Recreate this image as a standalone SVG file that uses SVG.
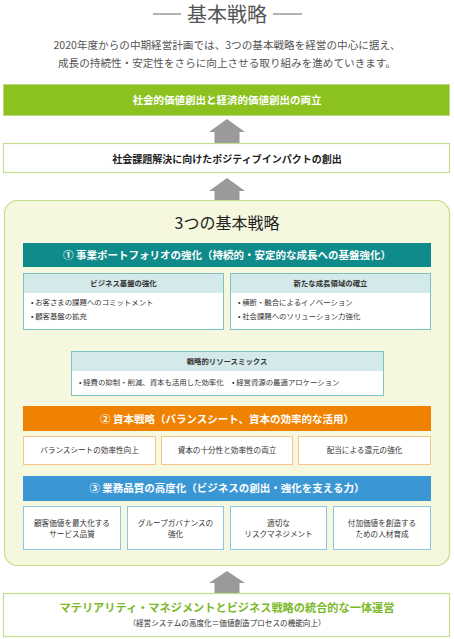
<svg xmlns="http://www.w3.org/2000/svg" width="454" height="639" viewBox="0 0 454 639">
<defs>
<style>
text{font-family:"Noto Sans CJK JP","Noto Sans",sans-serif;text-anchor:middle}
.ttl{font-size:20px;fill:#555}
.sub{font-size:10.6px;fill:#555}
.wb{font-size:10.5px;fill:#fff;font-weight:bold}
.db{font-size:10px;fill:#222;font-weight:bold}
.h3{font-size:16px;fill:#222}
.hd{font-size:7.4px;fill:#333;font-weight:bold}
.bl{font-size:7.4px;fill:#333;text-anchor:start}
.sm{font-size:7.6px;fill:#333}
.gt{font-size:11.2px;fill:#7cb82a;font-weight:bold}
.arr{fill:#9a9a9a}
.tealbox{fill:#fff;stroke:#7cc3c3;stroke-width:1}
.tealhd{fill:#d4e9e9}
.orbox{fill:#fff;stroke:#f7c48a;stroke-width:1}
.blbox{fill:#fff;stroke:#8cc6ea;stroke-width:1}
.gbox{fill:#fff;stroke:#c3df8e;stroke-width:1.2}
</style>
</defs>

<g id="title">
<line x1="153" y1="14" x2="181" y2="14" stroke="#666" stroke-width="1"/>
<line x1="273" y1="14" x2="302" y2="14" stroke="#666" stroke-width="1"/>
<text class="ttl" x="227" y="22">基本戦略</text>
<text class="sub" x="227" y="49">2020年度からの中期経営計画では、3つの基本戦略を経営の中心に据え、</text>
<text class="sub" x="227" y="67">成長の持続性・安定性をさらに向上させる取り組みを進めていきます。</text>
</g>

<g id="connectors">
<path class="arr" d="M227 119 L245 132 L239.5 132 L239.5 143 L214.5 143 L214.5 132 L209 132 Z"/>
<path class="arr" d="M227 178 L245 191 L239.5 191 L239.5 200 L214.5 200 L214.5 191 L209 191 Z"/>
<path class="arr" d="M227 333 L246 346 L208 346 Z"/>
<path class="arr" d="M227 571 L245 583 L239.5 583 L239.5 593 L214.5 593 L214.5 583 L209 583 Z"/>
</g>

<g id="goal">
<rect x="3.5" y="84.5" width="446" height="31" fill="#8cc21f" stroke="#b8da78" stroke-width="1"/>
<text class="wb" x="227" y="104">社会的価値創出と経済的価値創出の両立</text>
</g>

<g id="impact">
<rect class="gbox" x="3.5" y="143.5" width="446" height="29"/>
<text class="db" x="227" y="162.5">社会課題解決に向けたポジティブインパクトの創出</text>
</g>

<g id="strategies">
<rect x="4.5" y="200.5" width="445" height="365" rx="13" ry="13" fill="#f5f8df" stroke="#c4de88" stroke-width="1.2"/>
<text class="h3" x="227" y="229">3つの基本戦略</text>
</g>

<g id="s1">
<rect x="23" y="243" width="408" height="24" fill="#0f8b8b"/>
<text class="wb" x="227" y="259">① 事業ポートフォリオの強化（持続的・安定的な成長への基盤強化）</text>
</g>

<g id="s1a">
<rect class="tealbox" x="23.5" y="273.5" width="200" height="56"/>
<rect class="tealhd" x="24" y="274" width="199" height="19"/>
<text class="hd" x="123.5" y="286">ビジネス基盤の強化</text>
<text class="bl" x="31" y="305">• お客さまの課題へのコミットメント</text>
<text class="bl" x="31" y="318.5">• 顧客基盤の拡充</text>
</g>

<g id="s1b">
<rect class="tealbox" x="230.5" y="273.5" width="200" height="56"/>
<rect class="tealhd" x="231" y="274" width="199" height="19"/>
<text class="hd" x="330.5" y="286">新たな成長領域の確立</text>
<text class="bl" x="238" y="305">• 横断・融合によるイノベーション</text>
<text class="bl" x="238" y="318.5">• 社会課題へのソリューション力強化</text>
</g>

<g id="resource">
<rect class="tealbox" x="71.5" y="351.5" width="312" height="44"/>
<rect class="tealhd" x="72" y="352" width="311" height="19"/>
<text class="hd" x="227" y="364">戦略的リソースミックス</text>
<text class="bl" x="79" y="385">• 経費の抑制・削減、資本も活用した効率化</text>
<text class="bl" x="232" y="385">• 経営資源の最適アロケーション</text>
</g>

<g id="s2">
<rect x="23" y="406" width="408" height="25" fill="#ef8200"/>
<text class="wb" x="227" y="422.5">② 資本戦略（バランスシート、資本の効率的な活用）</text>
</g>
<g id="s2a">
<rect class="orbox" x="23.5" y="436.5" width="132" height="28"/>
<text class="sm" x="89.5" y="453">バランスシートの効率性向上</text>
</g>
<g id="s2b">
<rect class="orbox" x="161.5" y="436.5" width="131" height="28"/>
<text class="sm" x="227" y="453">資本の十分性と効率性の両立</text>
</g>
<g id="s2c">
<rect class="orbox" x="298.5" y="436.5" width="132" height="28"/>
<text class="sm" x="364.5" y="453">配当による還元の強化</text>
</g>

<g id="s3">
<rect x="23" y="476" width="408" height="25" fill="#3a97d4"/>
<text class="wb" x="227" y="492">③ 業務品質の高度化（ビジネスの創出・強化を支える力）</text>
</g>
<g id="s3a">
<rect class="blbox" x="23.5" y="506.5" width="97" height="43"/>
<text class="sm" x="72" y="526">顧客価値を最大化する</text>
<text class="sm" x="72" y="537">サービス品質</text>
</g>
<g id="s3b">
<rect class="blbox" x="127.5" y="506.5" width="96" height="43"/>
<text class="sm" x="175.5" y="526">グループガバナンスの</text>
<text class="sm" x="175.5" y="537">強化</text>
</g>
<g id="s3c">
<rect class="blbox" x="230.5" y="506.5" width="96" height="43"/>
<text class="sm" x="278.5" y="526">適切な</text>
<text class="sm" x="278.5" y="537">リスクマネジメント</text>
</g>
<g id="s3d">
<rect class="blbox" x="333.5" y="506.5" width="97" height="43"/>
<text class="sm" x="382" y="526">付加価値を創造する</text>
<text class="sm" x="382" y="537">ための人材育成</text>
</g>

<g id="base">
<rect class="gbox" x="3.5" y="593.5" width="446" height="43"/>
<text class="gt" x="227" y="612">マテリアリティ・マネジメントとビジネス戦略の統合的な一体運営</text>
<text class="sm" x="227" y="626">（経営システムの高度化＝価値創造プロセスの機能向上）</text>
</g>
</svg>
